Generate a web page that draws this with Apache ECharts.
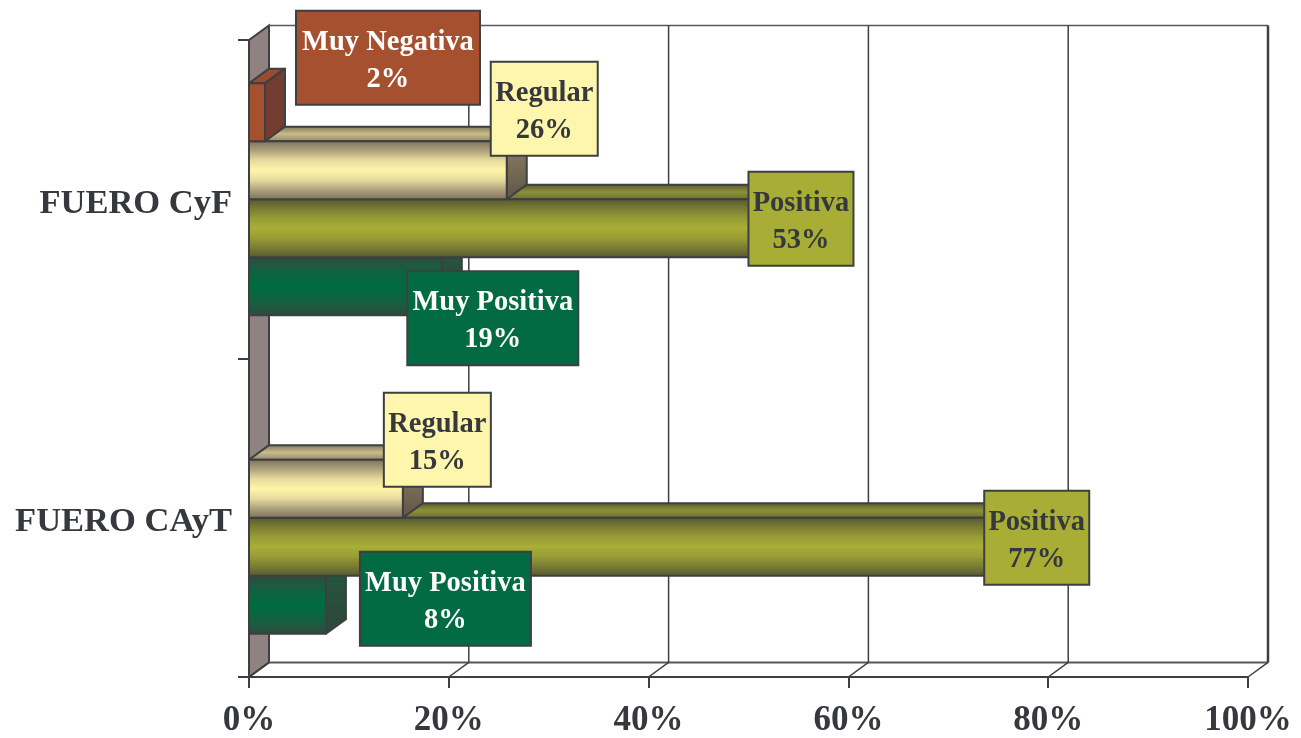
<!DOCTYPE html>
<html><head><meta charset="utf-8">
<style>html,body{margin:0;padding:0;background:#fff}#c{width:1301px;height:738px}</style>
<script src="https://cdn.jsdelivr.net/npm/echarts@6/dist/echarts.min.js"></script>
</head><body><div id="c"></div>
<script>
const categories = ['FUERO CAyT', 'FUERO CyF'];
const gridValues = [0, 20, 40, 60, 80, 100];
const muyPositiva = [7.7, 19.3];
const positiva = [77, 53];
const regular = [15.4, 25.8];
const muyNegativa = [null, 1.6];

const FONT = '"Liberation Serif","Times New Roman",serif';
const INK = '#35383c';
const DX = 20, DY = 14.6, ROW = 58;

function vgrad(stops) {
  return { type: 'linear', x: 0, y: 0, x2: 0, y2: 1,
    colorStops: stops.map((c, i) => ({ offset: i / (stops.length - 1), color: c })) };
}
const looks = {
  'Muy Positiva': { row: 1.5, front: vgrad(['#2f4a3c', '#1d5a40', '#0a6640', '#006b40', '#0a6640', '#1d5a40', '#2f4a3c']),
    side: vgrad(['#22583f', '#2e463b']), top: vgrad(['#2f4a3c', '#1a5a40']),
    box: '#026b43', text: '#ffffff', w: 171, off: [[119.5, -6], [51, 32]] },
  'Positiva': { row: 0.5, front: vgrad(['#55572f', '#787b33', '#979c35', '#a8ae36', '#979c35', '#787b33', '#55572f']),
    side: vgrad(['#6f7232', '#4d4e30']), top: vgrad(['#55572f', '#8c9036', '#6a6c32']),
    box: '#a7ad35', text: INK, w: 105, off: [[18.5, -9], [22.5, -9.5]] },
  'Regular': { row: -0.5, front: vgrad(['#7b7058', '#ab9f7c', '#e6da9c', '#fff5a9', '#e6da9c', '#ab9f7c', '#7b7058']),
    side: vgrad(['#9a8a68', '#5e5547']), top: vgrad(['#7b7159', '#c9bc8a', '#8d8268']),
    box: '#fff6ad', text: INK, w: 107, off: [[34.5, -49], [37.5, -61.5]] },
  'Muy Negativa': { row: -1.5, front: '#a55130', side: '#733d31', top: '#9a4c30',
    box: '#a55130', text: '#ffffff', w: 184, off: [[0, 0], [123, -54.5]] }
};

function frameSeries() {
  return {
    type: 'custom', name: 'frame', z: 1, silent: true, clip: false,
    data: gridValues.map(v => [v, 0]), encode: { x: 0, y: 1 },
    renderItem(params, api) {
      const v = api.value(0), cs = params.coordSys;
      const x = api.coord([v, 0])[0];
      const top = cs.y, bot = cs.y + cs.height;
      const line = { stroke: '#3d3f42', lineWidth: 1.5 };
      const kids = [{ type: 'line', shape: { x1: x, y1: bot, x2: x + DX, y2: bot - DY }, style: line }];
      if (v === 0) {
        kids.unshift({ type: 'polygon',
          shape: { points: [[x, top], [x + DX, top - DY], [x + DX, bot - DY], [x, bot]] },
          style: { fill: '#8f8280', stroke: '#3d3f42', lineWidth: 2 } });
        kids.push({ type: 'line', shape: { x1: x + DX, y1: top - DY, x2: cs.x + cs.width + DX, y2: top - DY }, style: { stroke: '#55575a', lineWidth: 1.5 } });
        kids.push({ type: 'line', shape: { x1: x + DX, y1: bot - DY, x2: cs.x + cs.width + DX, y2: bot - DY }, style: { stroke: '#55575a', lineWidth: 2 } });
      } else {
        kids.push({ type: 'line', shape: { x1: x + DX, y1: top - DY, x2: x + DX, y2: bot - DY },
          style: { stroke: '#3d3f42', lineWidth: v === 100 ? 2.5 : 1.5 } });
      }
      return { type: 'group', children: kids };
    }
  };
}

function barSeries(name, values, order) {
  const L = looks[name];
  return {
    type: 'custom', name, z: 2 + order, clip: false,
    data: values.map((v, i) => [v, i]), encode: { x: 0, y: 1 },
    renderItem(params, api) {
      const v = api.value(0);
      if (v === null || isNaN(v)) return null;
      const p = api.coord([v, api.value(1)]);
      const x0 = api.coord([0, 0])[0];
      const bottom = p[1] + L.row * ROW + ROW / 2, top = bottom - ROW, x1 = p[0];
      const edge = { stroke: '#3d3f42', lineWidth: 2, lineJoin: 'round' };
      return { type: 'group', children: [
        { type: 'polygon', shape: { points: [[x0, top], [x0 + DX, top - DY], [x1 + DX, top - DY], [x1, top]] },
          style: Object.assign({ fill: L.top }, edge) },
        { type: 'polygon', shape: { points: [[x1, top], [x1 + DX, top - DY], [x1 + DX, bottom - DY], [x1, bottom]] },
          style: Object.assign({ fill: L.side }, edge) },
        { type: 'rect', shape: { x: x0, y: top, width: x1 - x0, height: ROW },
          style: Object.assign({ fill: L.front }, edge) }
      ] };
    }
  };
}

function labelSeries(name, values) {
  const L = looks[name];
  return {
    type: 'custom', name: name + ' label', z: 20, clip: false,
    data: values.map((v, i) => [v, i]), encode: { x: 0, y: 1 },
    renderItem(params, api) {
      const v = api.value(0);
      if (v === null || isNaN(v)) return null;
      const i = api.value(1);
      const p = api.coord([v, i]);
      const cy = p[1] + L.row * ROW + L.off[i][1], cx = p[0] + L.off[i][0];
      const H = 94;
      return { type: 'group', children: [
        { type: 'rect', shape: { x: cx - L.w / 2, y: cy - H / 2, width: L.w, height: H },
          style: { fill: L.box, stroke: '#3d3f42', lineWidth: 2 } },
        { type: 'text', style: { x: cx, y: cy + 3, text: name + '\n' + Math.round(v) + '%',
            fill: L.text, font: 'bold 28.5px ' + FONT, lineHeight: 37, align: 'center', verticalAlign: 'middle' } }
      ] };
    }
  };
}

const chart = echarts.init(document.getElementById('c'), null, { renderer: 'canvas' });
chart.setOption({
  animation: false,
  backgroundColor: '#ffffff',
  grid: { left: 249, right: 53, top: 40, bottom: 61 },
  xAxis: {
    type: 'value', min: 0, max: 100, interval: 20,
    splitLine: { show: false },
    axisLine: { show: true, lineStyle: { color: '#3d3f42', width: 2 } },
    axisTick: { show: true, length: 11, lineStyle: { color: '#3d3f42', width: 2 } },
    axisLabel: { formatter: '{value}%', color: INK, fontFamily: FONT, fontWeight: 'bold', fontSize: 35, margin: 26 }
  },
  yAxis: {
    type: 'category', data: categories,
    axisLine: { show: true, lineStyle: { color: '#3d3f42', width: 2 } },
    axisTick: { show: true, length: 11, lineStyle: { color: '#3d3f42', width: 2 } },
    axisLabel: { margin: 17, formatter: v => '{a|' + v + '}',
      rich: { a: { color: INK, fontFamily: FONT, fontWeight: 'bold', fontSize: 34.5, padding: [9, 0, 0, 0] } } }
  },
  series: [
    frameSeries(),
    barSeries('Muy Positiva', muyPositiva, 0),
    barSeries('Positiva', positiva, 1),
    barSeries('Regular', regular, 2),
    barSeries('Muy Negativa', muyNegativa, 3),
    labelSeries('Muy Positiva', muyPositiva),
    labelSeries('Positiva', positiva),
    labelSeries('Regular', regular),
    labelSeries('Muy Negativa', muyNegativa)
  ]
});
</script></body></html>
